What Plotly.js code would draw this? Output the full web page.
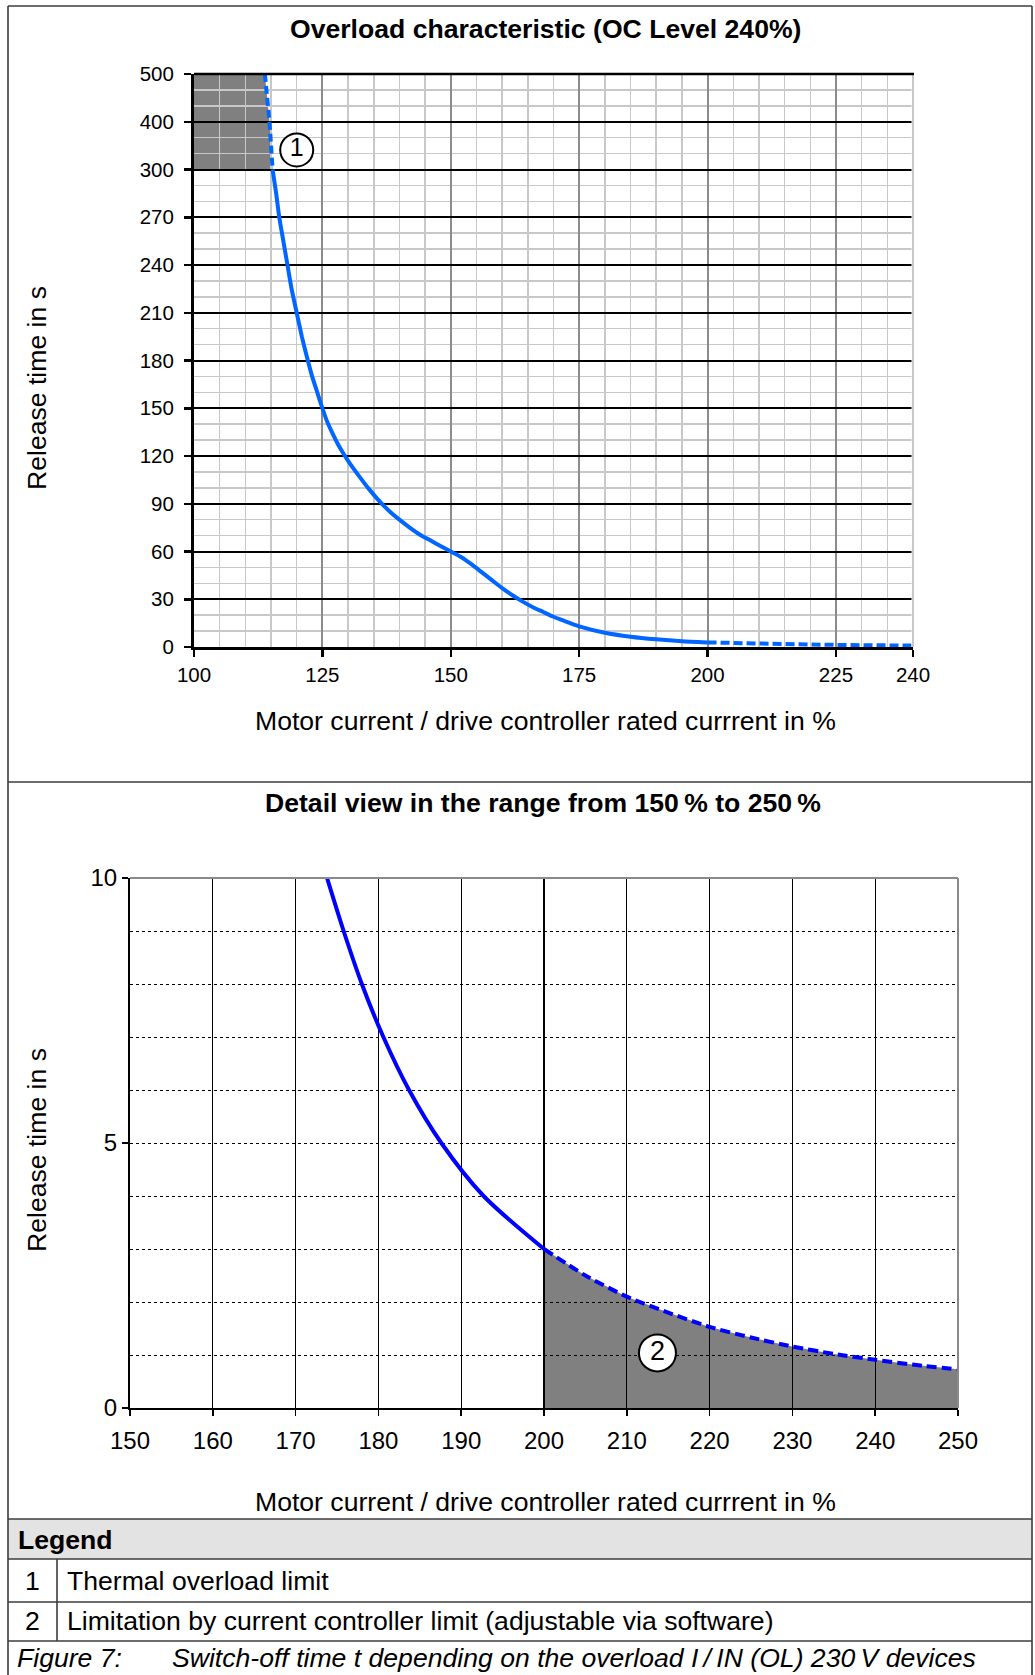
<!DOCTYPE html>
<html>
<head>
<meta charset="utf-8">
<script src="https://cdn.plot.ly/plotly-3.0.1.min.js"></script>
<style>
html,body{margin:0;padding:0;background:#ffffff;}
#chart{width:1035px;height:1675px;}
</style>
</head>
<body>
<div id="chart"></div>
<script>
// ---------------- data ----------------
const overviewXTicks = [100, 125, 150, 175, 200, 225, 240];
const overviewYTickLabels = [0, 30, 60, 90, 120, 150, 180, 210, 240, 270, 300, 400, 500];

// thermal overload limit, dashed part above 300 s
const upperLimitX = [113.8, 114.7, 115.3];
const upperLimitY = [500, 400, 300];

// thermal overload limit, solid part
const thermalX = [115.3, 116.0, 116.6, 117.4, 118.2, 119, 120, 121, 122, 123, 124, 125, 126, 127, 128, 129, 130, 132, 134, 136, 138, 140, 142, 144, 146, 148, 150, 152, 154, 156, 158, 160, 162, 164, 166, 168, 170, 172, 175, 180, 185, 190, 195, 200];
const thermalY = [300, 285, 270, 255, 240, 225, 210, 195, 182, 170, 160, 150, 141, 134, 127.5, 122, 117, 108, 99.5, 92, 85.5, 80, 75, 70.5, 67, 63.5, 60, 56.5, 52, 47, 42, 37, 32.5, 28.5, 25, 22, 19, 16.5, 13, 9, 6.5, 4.8, 3.6, 2.9];

// current controller limit, dashed tail in the overview
const tailX = [200, 210, 220, 230, 240];
const tailY = [2.9, 2.1, 1.5, 1.15, 0.9];

// detail view
const detailXTicks = [150, 160, 170, 180, 190, 200, 210, 220, 230, 240, 250];
const detailYTicks = [0, 5, 10];
const detailThermalX = [173.8, 175.8, 178.0, 180.6, 183.7, 187.6, 192.7, 200];
const detailThermalY = [10, 9, 8, 7, 6, 5, 4, 3];
const detailLimitX = [200, 205, 210, 215, 220, 225, 230, 235, 240, 245, 250];
const detailLimitY = [3.0, 2.5, 2.1, 1.8, 1.53, 1.33, 1.16, 1.02, 0.91, 0.81, 0.73];

// callout markers
const callout1 = {x: 120, y: 341, label: '1'};
const callout2 = {x: 213.7, y: 1.04, label: '2'};

// legend table
const legendNumbers = ['1', '2'];
const legendTexts = ['Thermal overload limit', 'Limitation by current controller limit (adjustable via software)'];

// ---------------- helpers ----------------
const W = 1035, H = 1675;
const FONT = 'Liberation Sans, Arial, Helvetica, sans-serif';
const TXT = 26.6;
const px = x => x / W;
const py = y => 1 - y / H;
// piecewise y scale of the overview chart: 0..300 in steps of 30, then 300..500 in steps of 100
const yPos = v => (v <= 300 ? v / 30 : 10 + (v - 300) / 100);

const BLUE1 = 'rgb(0,102,255)';
const BLUE2 = 'rgb(0,0,255)';

// ---------------- traces ----------------
const traces = [
  {x: upperLimitX, y: upperLimitY.map(yPos), xaxis: 'x', yaxis: 'y', mode: 'lines',
   line: {color: BLUE1, width: 4, dash: '8px,4px'}, hoverinfo: 'skip', showlegend: false},
  {x: thermalX, y: thermalY.map(yPos), xaxis: 'x', yaxis: 'y', mode: 'lines',
   line: {color: BLUE1, width: 4, shape: 'spline', smoothing: 0.5}, hoverinfo: 'skip', showlegend: false},
  {x: tailX, y: tailY.map(yPos), xaxis: 'x', yaxis: 'y', mode: 'lines',
   line: {color: BLUE1, width: 4, dash: '9px,4px'}, hoverinfo: 'skip', showlegend: false},
  {x: [callout1.x], y: [yPos(callout1.y)], xaxis: 'x', yaxis: 'y', mode: 'markers+text',
   text: [callout1.label], textposition: 'middle center',
   textfont: {family: FONT, size: 25, color: '#000'},
   marker: {symbol: 'circle', size: 33, color: '#ffffff', line: {color: '#000', width: 2}},
   hoverinfo: 'skip', showlegend: false},

  {x: detailThermalX, y: detailThermalY, xaxis: 'x2', yaxis: 'y2', mode: 'lines',
   line: {color: BLUE2, width: 4, shape: 'spline', smoothing: 0.8}, hoverinfo: 'skip', showlegend: false},
  {x: detailLimitX, y: detailLimitY, xaxis: 'x2', yaxis: 'y2', mode: 'lines',
   line: {color: BLUE2, width: 4, dash: '10px,5px', shape: 'spline', smoothing: 0.6}, hoverinfo: 'skip', showlegend: false},
  {x: [callout2.x], y: [callout2.y], xaxis: 'x2', yaxis: 'y2', mode: 'markers+text',
   text: [callout2.label], textposition: 'middle center',
   textfont: {family: FONT, size: 27, color: '#000'},
   marker: {symbol: 'circle', size: 37, color: '#ffffff', line: {color: '#000', width: 2}},
   hoverinfo: 'skip', showlegend: false}
];

// ---------------- shapes ----------------
// grey area above the thermal limit in the overview
let p1 = `M ${overviewXTicks[0]},${yPos(upperLimitY[upperLimitY.length - 1])}`;
for (let i = upperLimitX.length - 1; i >= 0; i--) p1 += ` L ${upperLimitX[i]},${yPos(upperLimitY[i])}`;
p1 += ` L ${overviewXTicks[0]},${yPos(upperLimitY[0])} Z`;

// grey area under the current controller limit in the detail view
let p2 = `M ${detailLimitX[0]},0`;
for (let i = 0; i < detailLimitX.length; i++) p2 += ` L ${detailLimitX[i]},${detailLimitY[i]}`;
p2 += ` L ${detailLimitX[detailLimitX.length - 1]},0 Z`;

const frameLine = (x0, y0, x1, y1, w) => ({type: 'line', xref: 'paper', yref: 'paper',
  x0: px(x0), y0: py(y0), x1: px(x1), y1: py(y1), line: {color: '#3c3c3c', width: w || 1.6}, layer: 'above'});

const shapes = [
  {type: 'path', xref: 'x', yref: 'y', path: p1, fillcolor: '#808080', line: {width: 0}, layer: 'below'},
  {type: 'path', xref: 'x2', yref: 'y2', path: p2, fillcolor: '#808080', line: {width: 0}, layer: 'below'},
  // overview right / top border
  {type: 'line', xref: 'paper', yref: 'paper', x0: px(913.5), x1: px(913.5), y0: py(647), y1: py(74), line: {color: '#ffffff', width: 4}, layer: 'above'},
  {type: 'line', xref: 'paper', yref: 'paper', x0: px(913), x1: px(913), y0: py(647), y1: py(74), line: {color: '#c8c8c8', width: 2}, layer: 'above'},
  {type: 'line', xref: 'paper', yref: 'paper', x0: px(194), x1: px(914), y0: py(74), y1: py(74), line: {color: '#000', width: 2.5}, layer: 'above'},
  // detail top / right border
  {type: 'line', xref: 'paper', yref: 'paper', x0: px(130), x1: px(958), y0: py(878), y1: py(878), line: {color: '#8a8a8a', width: 2}, layer: 'above'},
  {type: 'line', xref: 'paper', yref: 'paper', x0: px(958), x1: px(958), y0: py(1408), y1: py(878), line: {color: '#8a8a8a', width: 2}, layer: 'above'},
  // legend header background
  {type: 'rect', xref: 'paper', yref: 'paper', x0: px(8), x1: px(1032), y0: py(1559), y1: py(1519),
   fillcolor: '#e3e3e3', line: {width: 0}, layer: 'below'},
  // outer frame and table rules
  frameLine(8, 6, 1032, 6),
  frameLine(8, 6, 8, 1675),
  frameLine(1032, 6, 1032, 1675),
  frameLine(8, 782, 1032, 782),
  frameLine(8, 1519, 1032, 1519),
  frameLine(8, 1559, 1032, 1559),
  frameLine(8, 1602, 1032, 1602),
  frameLine(8, 1641, 1032, 1641),
  frameLine(57, 1559, 57, 1641)
];

// ---------------- annotations ----------------
const ann = (text, x, y, opts) => Object.assign({
  text: text, xref: 'paper', yref: 'paper', x: px(x), y: py(y),
  xanchor: 'center', yanchor: 'middle', showarrow: false,
  font: {family: FONT, size: TXT, color: '#000'}
}, opts || {});

const annotations = [
  ann('<b>Overload characteristic (OC Level 240%)</b>', 545, 29),
  ann('Motor current / drive controller rated currrent in %', 545, 721),
  ann('Release time in s', 37, 388, {textangle: -90}),
  ann('<b>Detail view in the range from 150\u2009% to 250\u2009%</b>', 543, 803),
  ann('Motor current / drive controller rated currrent in %', 545, 1502),
  ann('Release time in s', 37, 1150, {textangle: -90}),
  ann('<b>Legend</b>', 16, 1540, {xanchor: 'left'}),
  ann(legendNumbers[0], 32, 1581),
  ann(legendTexts[0], 65, 1581, {xanchor: 'left'}),
  ann(legendNumbers[1], 32, 1621),
  ann(legendTexts[1], 65, 1621, {xanchor: 'left'}),
  ann('<i>Figure 7:</i>', 15, 1658, {xanchor: 'left'}),
  ann('<i>Switch-off time t depending on the overload I\u2009/\u2009IN (OL) 230\u2009V devices</i>', 170, 1658, {xanchor: 'left'})
];

// ---------------- layout ----------------
const layout = {
  width: W, height: H,
  margin: {l: 0, r: 0, t: 0, b: 0, pad: 0},
  paper_bgcolor: '#ffffff', plot_bgcolor: '#ffffff',
  showlegend: false,
  font: {family: FONT, color: '#000'},
  xaxis: {
    domain: [px(194), px(913)], anchor: 'y', range: [100, 240],
    tickmode: 'array', tickvals: overviewXTicks, ticktext: overviewXTicks.map(String),
    ticks: 'outside', ticklen: 7, tickwidth: 2.5, tickcolor: '#000',
    showline: true, linecolor: '#000', linewidth: 3,
    showgrid: true, gridcolor: '#8c8c8c', gridwidth: 2, zeroline: false,
    tickfont: {family: FONT, size: 20.5, color: '#000'},
    minor: {tickmode: 'linear', tick0: 100, dtick: 5, showgrid: true, gridcolor: '#c8c8c8', gridwidth: 1.5, ticks: ''},
    fixedrange: true
  },
  yaxis: {
    domain: [py(647), py(74)], anchor: 'x', range: [0, 12],
    tickmode: 'array', tickvals: overviewYTickLabels.map(yPos), ticktext: overviewYTickLabels.map(String),
    ticks: 'outside', ticklen: 7, tickwidth: 2.5, tickcolor: '#000',
    showline: true, linecolor: '#000', linewidth: 3,
    showgrid: true, gridcolor: '#000', gridwidth: 2, zeroline: false,
    tickfont: {family: FONT, size: 20.5, color: '#000'},
    ticklabelstandoff: 6,
    minor: {tickmode: 'linear', tick0: 0, dtick: 1 / 3, showgrid: true, gridcolor: '#c8c8c8', gridwidth: 1.5, ticks: ''},
    fixedrange: true
  },
  xaxis2: {
    domain: [px(130), px(958)], anchor: 'y2', range: [150, 250],
    tickmode: 'array', tickvals: detailXTicks, ticktext: detailXTicks.map(String),
    ticks: 'outside', ticklen: 6, tickwidth: 1.5, tickcolor: '#000',
    showline: true, linecolor: '#000', linewidth: 2,
    showgrid: true, gridcolor: '#000', gridwidth: 1.2, zeroline: false,
    tickfont: {family: FONT, size: 24, color: '#000'},
    ticklabelstandoff: 4,
    fixedrange: true
  },
  yaxis2: {
    domain: [py(1408), py(878)], anchor: 'x2', range: [0, 10],
    tickmode: 'array', tickvals: detailYTicks, ticktext: detailYTicks.map(String),
    ticks: 'outside', ticklen: 6, tickwidth: 1.5, tickcolor: '#000',
    showline: true, linecolor: '#000', linewidth: 2,
    showgrid: true, gridcolor: '#000', gridwidth: 1, griddash: 'dot', zeroline: false,
    tickfont: {family: FONT, size: 24, color: '#000'},
    minor: {tickmode: 'linear', tick0: 0, dtick: 1, showgrid: true, gridcolor: '#000', gridwidth: 1, griddash: 'dot', ticks: ''},
    fixedrange: true
  },
  shapes: shapes,
  annotations: annotations
};

Plotly.newPlot('chart', traces, layout, {staticPlot: true, displayModeBar: false});
</script>
</body>
</html>
